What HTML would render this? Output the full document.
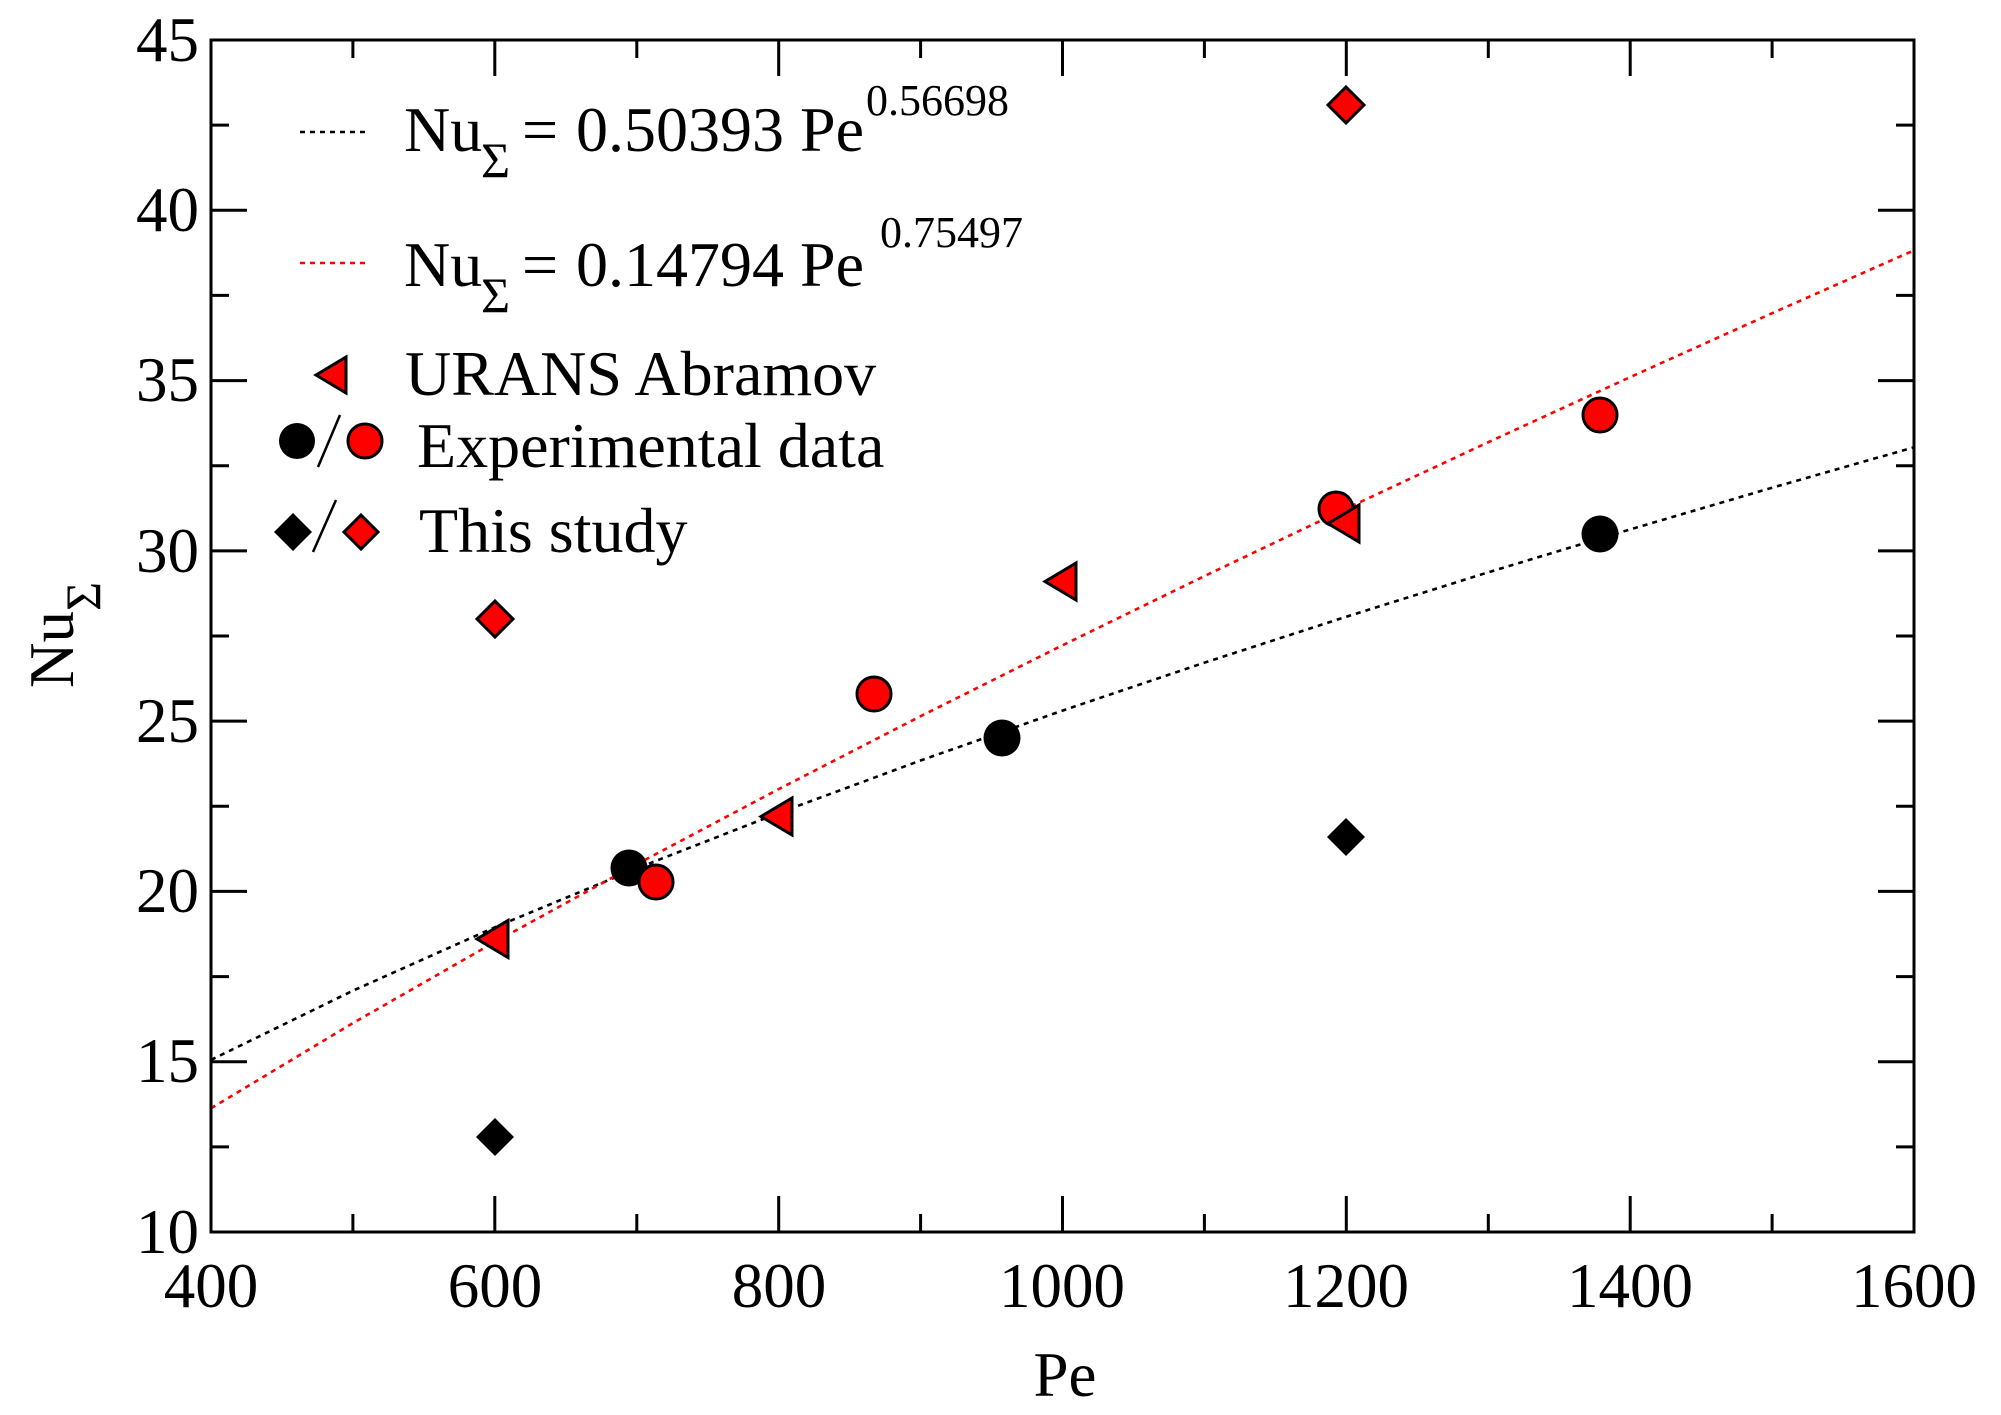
<!DOCTYPE html>
<html><head><meta charset="utf-8"><style>
html,body{margin:0;padding:0;background:#fff;}
svg{display:block;}
text{font-family:"Liberation Serif","DejaVu Serif",serif;fill:#000;}
</style></head><body>
<svg width="2001" height="1415" viewBox="0 0 2001 1415" xmlns="http://www.w3.org/2000/svg">
<rect width="2001" height="1415" fill="#fff"/>
<!-- fit lines -->
<polyline fill="none" stroke="#000" stroke-width="2.6" stroke-dasharray="5 5" points="211,1059.9 352.9,990.7 494.8,927.3 636.8,868.4 778.7,813.0 920.6,760.5 1062.5,710.6 1204.4,662.7 1346.3,616.7 1488.3,572.3 1630.2,529.4 1772.1,487.7 1914,447.3"/>
<polyline fill="none" stroke="#f00" stroke-width="2.6" stroke-dasharray="5 5" points="211,1108.3 352.9,1023.1 494.8,942.0 636.8,864.2 778.7,789.1 920.6,716.2 1062.5,645.3 1204.4,576.1 1346.3,508.5 1488.3,442.2 1630.2,377.1 1772.1,313.2 1914,250.3"/>
<!-- black markers -->
<g fill="#000">
<circle cx="629" cy="868" r="18.5"/>
<circle cx="1002" cy="738" r="18.5"/>
<circle cx="1600" cy="534" r="18.5"/>
<polygon points="495,1118 514,1137 495,1156 476,1137"/>
<polygon points="1346,818 1365,837 1346,856 1327,837"/>
</g>
<!-- red markers -->
<g fill="#f00" stroke="#000" stroke-width="3">
<circle cx="656" cy="882" r="17"/>
<circle cx="874" cy="694" r="17"/>
<circle cx="1336" cy="509" r="17"/>
<circle cx="1600" cy="415" r="17"/>
<polygon points="477,939 508,920.5 508,957.5"/>
<polygon points="761,816.5 792,798 792,835"/>
<polygon points="1045,581.5 1076,563 1076,600"/>
<polygon points="1328,523.5 1359,505 1359,542"/>
<polygon points="495,601 513,619 495,637 477,619"/>
<polygon points="1346,87 1364,105 1346,123 1328,105"/>
</g>
<!-- frame -->
<rect x="211" y="40" width="1703" height="1192" fill="none" stroke="#000" stroke-width="3"/>
<!-- ticks -->
<g stroke="#000" stroke-width="3">
<path d="M494.8,1232v-36M778.7,1232v-36M1062.5,1232v-36M1346.3,1232v-36M1630.2,1232v-36
M494.8,40v36M778.7,40v36M1062.5,40v36M1346.3,40v36M1630.2,40v36"/>
<path d="M352.9,1232v-18M636.8,1232v-18M920.6,1232v-18M1204.4,1232v-18M1488.3,1232v-18M1772.1,1232v-18
M352.9,40v18M636.8,40v18M920.6,40v18M1204.4,40v18M1488.3,40v18M1772.1,40v18"/>
<path d="M211,210.3h36M211,380.6h36M211,550.9h36M211,721.1h36M211,891.4h36M211,1061.7h36
M1914,210.3h-36M1914,380.6h-36M1914,550.9h-36M1914,721.1h-36M1914,891.4h-36M1914,1061.7h-36"/>
<path d="M211,125.1h18M211,295.4h18M211,465.7h18M211,636h18M211,806.3h18M211,976.6h18M211,1146.9h18
M1914,125.1h-18M1914,295.4h-18M1914,465.7h-18M1914,636h-18M1914,806.3h-18M1914,976.6h-18M1914,1146.9h-18"/>
</g>
<!-- tick labels -->
<g font-size="63" text-anchor="middle">
<text x="211" y="1307">400</text>
<text x="495" y="1307">600</text>
<text x="779" y="1307">800</text>
<text x="1062" y="1307">1000</text>
<text x="1346" y="1307">1200</text>
<text x="1630" y="1307">1400</text>
<text x="1914" y="1307">1600</text>
</g>
<g font-size="63" text-anchor="end">
<text x="199" y="61">45</text>
<text x="199" y="231">40</text>
<text x="199" y="401">35</text>
<text x="199" y="572">30</text>
<text x="199" y="742">25</text>
<text x="199" y="912">20</text>
<text x="199" y="1082">15</text>
<text x="199" y="1253">10</text>
</g>
<!-- axis titles -->
<text x="1065" y="1396" font-size="63" text-anchor="middle">Pe</text>
<g transform="translate(73,688) rotate(-90)">
<text x="0" y="0" font-size="63">Nu</text>
<text x="77" y="27" font-size="50">Σ</text>
</g>
<!-- legend -->
<line x1="300" y1="132" x2="370" y2="132" stroke="#000" stroke-width="2.6" stroke-dasharray="5 5"/>
<text x="404" y="151" font-size="64">Nu</text>
<text x="481" y="177" font-size="50">Σ</text>
<text x="522" y="151" font-size="64">=</text>
<text x="576" y="151" font-size="64">0.50393</text>
<text x="800" y="151" font-size="64">Pe</text>
<text x="866" y="115" font-size="44">0.56698</text>

<line x1="300" y1="263" x2="370" y2="263" stroke="#f00" stroke-width="2.6" stroke-dasharray="5 5"/>
<text x="404" y="286" font-size="64">Nu</text>
<text x="481" y="312" font-size="50">Σ</text>
<text x="522" y="286" font-size="64">=</text>
<text x="576" y="286" font-size="64">0.14794</text>
<text x="800" y="286" font-size="64">Pe</text>
<text x="880" y="247" font-size="44">0.75497</text>

<polygon points="316,375 346,357 346,393" fill="#f00" stroke="#000" stroke-width="3"/>
<text x="405" y="395" font-size="64">URANS Abramov</text>

<circle cx="297" cy="441" r="18" fill="#000"/>
<line x1="318" y1="467" x2="340" y2="415" stroke="#000" stroke-width="2.5"/>
<circle cx="365" cy="441" r="17" fill="#f00" stroke="#000" stroke-width="3"/>
<text x="417" y="467" font-size="64">Experimental data</text>

<polygon points="293,513 312,532 293,551 274,532" fill="#000"/>
<line x1="313" y1="552" x2="336" y2="500" stroke="#000" stroke-width="2.5"/>
<polygon points="361,515 378,532 361,549 344,532" fill="#f00" stroke="#000" stroke-width="3"/>
<text x="419" y="552" font-size="64">This study</text>
</svg>
</body></html>
